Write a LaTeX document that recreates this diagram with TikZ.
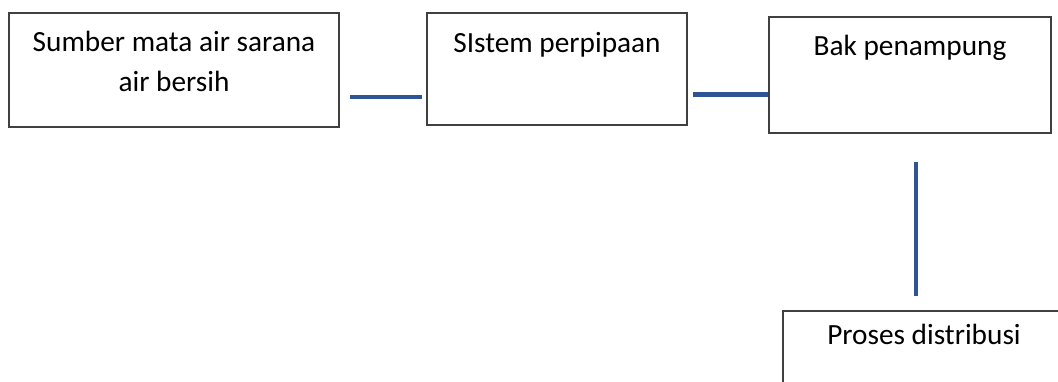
\documentclass[tikz,border=0pt]{standalone}
\usepackage{fontspec}
\setmainfont{Carlito}
\definecolor{pipeblue}{HTML}{2F5496}
\definecolor{boxline}{HTML}{404040}
\begin{document}
\begin{tikzpicture}[x=1pt,y=-1pt,
  stagebox/.style={draw=boxline,line width=1.4pt,rectangle,inner sep=0pt,fill=white},
  stagetext/.style={anchor=base,inner sep=0pt,align=center,font=\fontsize{29.3}{40}\selectfont},
  pipe/.style={draw=pipeblue,line width=4.5pt}]
\useasboundingbox (0,0) rectangle (1058,381);
\clip (0,0) rectangle (1058,381);
% stage boxes
\node[stagebox,minimum width=330pt,minimum height=114pt] (src) at (174,70) {};
\node[stagebox,minimum width=260pt,minimum height=112pt] (pipes) at (557,69) {};
\node[stagebox,minimum width=282pt,minimum height=116pt] (tank) at (910,75) {};
\node[stagebox,minimum width=282pt,minimum height=116pt] (dist) at (924,369) {};
% labels (base anchor sits on the last line)
\node[stagetext] (srct) at (174,91) {Sumber mata air sarana\\air bersih};
\node[stagetext] (pipest) at (557,52) {SIstem perpipaan};
\node[stagetext] (tankt) at (910,55) {Bak penampung};
\node[stagetext] (distt) at (924,344) {Proses distribusi};
% connectors
\coordinate (p1a) at (350,97);
\coordinate (p1b) at (422,97);
\coordinate (p2a) at (693,94.5);
\coordinate (p3a) at (916,162);
\coordinate (p3b) at (916,296);
\draw[pipe] (p1a) -- (p1b);
\draw[pipe] (p2a) -- (tank.west |- p2a);
\draw[pipe] (p3a) -- (p3b);
\end{tikzpicture}
\end{document}
